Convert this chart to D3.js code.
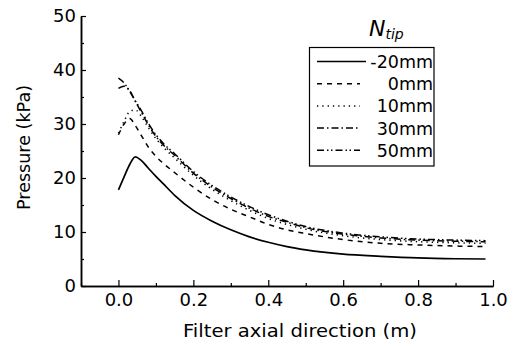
<!DOCTYPE html>
<html>
<head>
<meta charset="utf-8">
<script src="https://cdn.jsdelivr.net/npm/d3@7"></script>
<style>
  html, body { margin: 0; padding: 0; background: #fff; }
  svg { display: block; font-family: "DejaVu Sans", sans-serif; }
</style>
</head>
<body>
<svg id="chart" width="513" height="349"></svg>
<script>
// ---- data ----
const xs = [0, 0.015, 0.03, 0.045, 0.06, 0.08, 0.1, 0.12, 0.15, 0.2, 0.25, 0.3, 0.35, 0.4, 0.45, 0.5, 0.6, 0.7, 0.8, 0.9, 0.98];
const seriesNames = ["-20mm", "0mm", "10mm", "30mm", "50mm"];
const pMinus20 = [17.8, 20.2, 22.5, 23.9, 23.3, 21.8, 20.3, 18.9, 16.8, 14.0, 12.0, 10.4, 9.1, 8.1, 7.3, 6.7, 5.9, 5.5, 5.2, 5.05, 5.0];
const p0 = [28.0, 30.0, 31.0, 29.7, 28.0, 25.7, 24.0, 22.7, 21.0, 18.3, 16.0, 14.2, 12.8, 11.4, 10.4, 9.7, 8.6, 7.9, 7.6, 7.4, 7.3];
const p10 = [28.3, 30.5, 32.3, 32.6, 31.5, 29.3, 27.3, 25.7, 23.7, 20.5, 17.9, 15.8, 14.0, 12.5, 11.4, 10.5, 9.3, 8.6, 8.2, 8.0, 7.9];
const p30 = [36.6, 37.0, 36.2, 34.2, 32.3, 29.8, 27.7, 26.1, 24.2, 20.9, 18.3, 16.2, 14.4, 12.9, 11.8, 10.8, 9.6, 8.9, 8.5, 8.3, 8.2];
const p50 = [38.5, 37.6, 36.0, 34.3, 32.6, 30.1, 28.0, 26.4, 24.5, 21.2, 18.6, 16.5, 14.7, 13.2, 12.0, 11.0, 9.8, 9.1, 8.7, 8.5, 8.4];
const xTickValues = [0.0, 0.2, 0.4, 0.6, 0.8, 1.0];
const xMinorTicks = [-0.1, 0.1, 0.3, 0.5, 0.7, 0.9];
const yTickValues = [0, 10, 20, 30, 40, 50];
const yMinorTicks = [5, 15, 25, 35, 45];
const xLabel = "Filter axial direction (m)";
const yLabel = "Pressure (kPa)";

const allValues = [pMinus20, p0, p10, p30, p50];
const dashes = [null, "5,5", "1.3,4", "7,3,1.5,3", "7,3,1.5,2.5,1.5,3"];

// ---- layout ----
const svg = d3.select("#chart");
const mLeft = 81, mRight = 493, mTop = 16, mBottom = 286;
const x = d3.scaleLinear().domain([-0.1, 1.0]).range([mLeft, mRight]);
const y = d3.scaleLinear().domain([0, 50]).range([mBottom, mTop]);

// ticks
const gx = svg.append("g").attr("transform", `translate(0,${mBottom})`);
gx.append("g").call(d3.axisBottom(x).tickValues(xMinorTicks).tickSize(-3).tickSizeOuter(0).tickFormat(""));
gx.append("g").call(d3.axisBottom(x).tickValues(xTickValues).tickSizeInner(-6).tickSizeOuter(0).tickPadding(7)
  .tickFormat(d3.format(".1f")));
const gy = svg.append("g").attr("transform", `translate(${mLeft},0)`);
gy.append("g").call(d3.axisLeft(y).tickValues(yMinorTicks).tickSize(-3).tickSizeOuter(0).tickFormat(""));
gy.append("g").call(d3.axisLeft(y).tickValues(yTickValues).tickSizeInner(-5).tickSizeOuter(0).tickPadding(5)
  .tickFormat(d3.format("d")));

svg.selectAll(".domain").attr("stroke", "#000").attr("stroke-width", 1.5);
svg.selectAll(".tick line").attr("stroke", "#000").attr("stroke-width", 1.2);
svg.selectAll(".tick text").attr("font-size", 18).attr("fill", "#000").attr("font-family", "DejaVu Sans, sans-serif");

// axis titles
svg.append("text")
  .attr("x", (183 + 417) / 2).attr("y", 337)
  .attr("text-anchor", "middle").attr("font-size", 18)
  .attr("textLength", 234).attr("lengthAdjust", "spacingAndGlyphs")
  .text(xLabel);
svg.append("text")
  .attr("transform", `translate(30,${(85 + 210) / 2}) rotate(-90)`)
  .attr("text-anchor", "middle").attr("font-size", 17)
  .attr("textLength", 125).attr("lengthAdjust", "spacingAndGlyphs")
  .text(yLabel);

// lines
const line = d3.line()
  .x((d, i) => x(xs[i]))
  .y(d => y(d))
  .curve(d3.curveMonotoneX);

svg.append("defs").append("clipPath").attr("id", "clip")
  .append("rect").attr("x", mLeft).attr("y", mTop).attr("width", mRight - mLeft).attr("height", mBottom - mTop);

svg.append("g").attr("clip-path", "url(#clip)")
  .selectAll("path.series")
  .data(allValues)
  .join("path")
  .attr("class", "series")
  .attr("d", d => line(d))
  .attr("fill", "none")
  .attr("stroke", "#000")
  .attr("stroke-width", (d, i) => i === 0 ? 1.7 : 1.5)
  .attr("stroke-dasharray", (d, i) => dashes[i]);

// legend
const lg = svg.append("g");
lg.append("rect")
  .attr("x", 309.5).attr("y", 47.5).attr("width", 124.5).attr("height", 118.5)
  .attr("fill", "#fff").attr("stroke", "#000").attr("stroke-width", 1.2);

const rowBase = 68, rowStep = 22.2;
seriesNames.forEach((name, i) => {
  const by = rowBase + i * rowStep;
  lg.append("line")
    .attr("x1", 317).attr("x2", i === 0 ? 366 : 360)
    .attr("y1", by - 6.5).attr("y2", by - 6.5)
    .attr("stroke", "#000").attr("stroke-width", 1.5)
    .attr("stroke-dasharray", dashes[i]);
  lg.append("text")
    .attr("x", 433).attr("y", by)
    .attr("text-anchor", "end").attr("font-size", 17.5)
    .text(name);
});

// legend title N_tip
const title = svg.append("text").attr("x", 369).attr("y", 36).attr("font-style", "italic");
title.append("tspan").attr("font-size", 22).text("N");
title.append("tspan").attr("font-size", 14).attr("dy", 3).text("tip");
</script>
</body>
</html>
